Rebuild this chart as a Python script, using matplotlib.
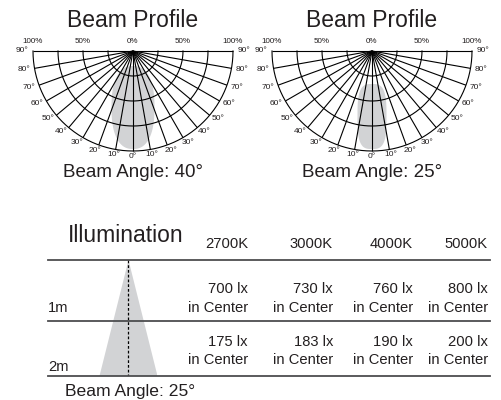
import numpy as np
import matplotlib.pyplot as plt
from matplotlib.patches import Polygon

plt.rcParams['font.family'] = ['Liberation Sans', 'DejaVu Sans']

# beam profile diagrams
beam_angles = [40, 25]
ring_levels = [0.25, 0.5, 0.75, 1.0]
spoke_angles = list(range(-90, 91, 10))
pct_positions = [-1.0, -0.5, 0.0, 0.5, 1.0]
pct_labels = ['100%', '50%', '0%', '50%', '100%']

# intensity lobe extent, in fractions of the 100% ring
lobe_near = [0.15, 0.33]
lobe_far = [0.98, 0.98]
lobe_half_width = [0.215, 0.145]
lobe_roundness = [2.4, 3.2]

# illumination table
color_temps = ['2700K', '3000K', '4000K', '5000K']
distances = [1, 2]
lux_values = [
    [700, 730, 760, 800],
    [175, 183, 190, 200],
]
table_beam_angle = 25

W, H = 502, 400
TEXT = '#231f20'
fig = plt.figure(figsize=(W / 100, H / 100), dpi=100)


def px_axes(x0, y0, x1, y1):
    ax = fig.add_axes([x0 / W, 1 - y1 / H, (x1 - x0) / W, (y1 - y0) / H])
    ax.set_axis_off()
    ax.patch.set_visible(False)
    return ax


def beam_profile(cx, idx):
    # 100 px per unit radius, horizontal rule 51 px from the top
    ax = px_axes(cx - 130, 0, cx + 130, 190)
    ax.set_xlim(-1.3, 1.3)
    ax.set_ylim(-1.39, 0.51)

    # lobe as a superellipse hanging below the source
    t = np.linspace(0, 2 * np.pi, 200)
    p = lobe_roundness[idx]
    a = lobe_half_width[idx]
    b = (lobe_far[idx] - lobe_near[idx]) / 2
    c = (lobe_far[idx] + lobe_near[idx]) / 2
    lx = a * np.sign(np.cos(t)) * np.abs(np.cos(t)) ** (2 / p)
    ly = -(c + b * np.sign(np.sin(t)) * np.abs(np.sin(t)) ** (2 / p))
    ax.add_patch(Polygon(np.column_stack([lx, ly]), closed=True,
                         facecolor='#d2d3d5', edgecolor='none', zorder=1))

    phi = np.radians(np.linspace(-90, 90, 181))
    for r in ring_levels:
        ax.plot(r * np.sin(phi), -r * np.cos(phi), color='black', lw=0.8, zorder=2)
    for ang in spoke_angles:
        th = np.radians(ang)
        ax.plot([0, np.sin(th)], [0, -np.cos(th)], color='black', lw=0.8, zorder=2,
                solid_capstyle='butt')
        ax.annotate(f'{abs(ang)}°', (np.sin(th), -np.cos(th)),
                    xytext=(11 * np.sin(th), -5.5 * np.cos(th)),
                    textcoords='offset pixels', ha='center', va='center',
                    fontsize=6, color=TEXT)

    for xp, lab in zip(pct_positions, pct_labels):
        ax.text(xp, 0.08, lab, ha='center', va='baseline', fontsize=5.8, color=TEXT)

    ax.text(0, 0.243, 'Beam Profile', ha='center', va='baseline', fontsize=16.5, color=TEXT)
    ax.text(0, -1.257, f'Beam Angle: {beam_angles[idx]}°', ha='center', va='baseline',
            fontsize=13.5, color=TEXT)


beam_profile(133, 0)
beam_profile(372, 1)

# illumination table, laid out in pixel units
tab = px_axes(0, 200, W, H)
tab.set_xlim(0, W)
tab.set_ylim(H, 200)

rule_y = [260, 320.5, 376]
for y in rule_y:
    tab.plot([48, 490], [y, y], color='#4d4d4f', lw=1.3, zorder=3)

tab.text(68, 241.7, 'Illumination', ha='left', va='baseline', fontsize=16.5, color=TEXT)

col_right = [248, 333, 413, 488]
for xr, ct in zip(col_right, color_temps):
    tab.text(xr, 248.3, ct, ha='right', va='baseline', fontsize=10.6, color=TEXT)

value_base = [293.3, 345.7]
center_base = [312.3, 364]
dist_base = [312.3, 371]
for i, d in enumerate(distances):
    tab.text(48, dist_base[i], f'{d}m', ha='left', va='baseline', fontsize=10.6, color=TEXT)
    for xr, lux in zip(col_right, lux_values[i]):
        tab.text(xr, value_base[i], f'{lux} lx', ha='right', va='baseline',
                 fontsize=10.6, color=TEXT)
        tab.text(xr, center_base[i], 'in Center', ha='right', va='baseline',
                 fontsize=10.6, color=TEXT)

tab.text(65, 396, f'Beam Angle: {table_beam_angle}°', ha='left', va='baseline',
         fontsize=12.6, color=TEXT)

# light cone drawn in metres below the fixture
spread = distances[-1] * np.tan(np.radians(table_beam_angle / 2))
cone = px_axes(99.5, rule_y[0], 157.5, rule_y[-1])
cone.set_xlim(-spread, spread)
cone.set_ylim(distances[-1], 0)
cone.add_patch(Polygon([[0, 0], [-spread, distances[-1]], [spread, distances[-1]]],
                       closed=True, facecolor='#d2d3d5', edgecolor='none', zorder=1))
cone.plot([0, 0], [0, distances[-1]], color='black', lw=0.9, ls=(0, (2.2, 1.6)), zorder=2)
cone.set_zorder(-1)

fig.savefig('out.png', dpi=100)
